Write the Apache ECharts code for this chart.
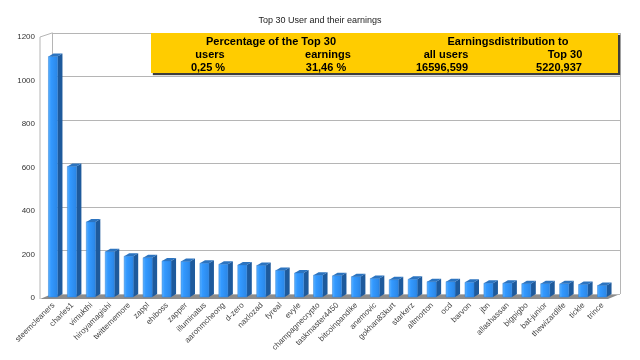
<!DOCTYPE html>
<html><head><meta charset="utf-8">
<script src="https://cdn.jsdelivr.net/npm/echarts@6/dist/echarts.min.js"></script>
<style>html,body{margin:0;padding:0;background:#fff}#c{width:640px;height:360px}</style>
</head><body><div id="c"></div>
<script>
const categories = ['steemcleaners','charles1','vimukthi','hiroyamagishi','twitternemore','zappl','ehiboss','zapper','illuminatus','aaronmcheong','d-zero','naxlozad','fyreal','evyle','champagnecrypto','taskmaster4450','bitcoinpandike','anemovic','gokhan83kurt','starkerz','altmorton','ocd','barvon','jbn','allashassan','bigpigbo','bat-junior','thewizardlife','tickle','trince'];
const earnings = [1110,605,350,213,192,185,170,168,160,155,152,150,127,115,105,102,98,90,84,86,75,75,72,68,68,66,66,65,62,58];
const yTicks = [0,200,400,600,800,1000,1200];
const chartTitle = 'Top 30 User and their earnings';
const boxHeaders = ['Percentage of the Top 30','Earningsdistribution to'];
const boxColumns = ['users','earnings','all users','Top 30'];
const boxValues = ['0,25 %','31,46 %','16596,599','5220,937'];

const FONT = '"Liberation Sans", Arial, sans-serif';
const chart = echarts.init(document.getElementById('c'), null, {renderer:'canvas'});
const yMax = yTicks[yTicks.length-1], yStep = yTicks[1]-yTicks[0];

const wallColor = '#b5b5b5';
const graphics = [
  {type:'polygon', z:0, shape:{points:[[40,299],[52,294],[620,294],[608,299]]}, style:{fill:'#8c8c8c'}},
  {type:'polyline', z:1, shape:{points:[[52,33],[40,37],[40,299]]}, style:{stroke:wallColor, lineWidth:1, fill:null}},
  {type:'line', z:1, shape:{x1:620.5,y1:33,x2:620.5,y2:294}, style:{stroke:wallColor, lineWidth:1}},
  {type:'rect', z:10, shape:{x:151,y:33,width:467,height:40}, style:{fill:'#FFCC00', shadowColor:'rgba(40,40,40,0.9)', shadowOffsetX:2, shadowOffsetY:2, shadowBlur:1}}
];
const bold = 'bold 11px ' + FONT;
const hx = [271, 508], cx = [210, 328, 446, 565], vx = [208, 326, 442, 559];
boxHeaders.forEach((t,i)=>graphics.push({type:'text', z:11, x:hx[i], y:41.5, style:{text:t, font:bold, fill:'#000', align:'center', verticalAlign:'middle'}}));
boxColumns.forEach((t,i)=>graphics.push({type:'text', z:11, x:cx[i], y:55, style:{text:t, font:bold, fill:'#000', align:'center', verticalAlign:'middle'}}));
boxValues.forEach((t,i)=>graphics.push({type:'text', z:11, x:vx[i], y:68, style:{text:t, font:bold, fill:'#000', align:'center', verticalAlign:'middle'}}));

function renderBar(params, api){
  const i = api.value(0), v = api.value(1);
  const b = api.coord([i,0]), t = api.coord([i,v]);
  const w = 9, dx = 5, dy = 3;
  const x0 = b[0]-5, yb = b[1]-1, yt = t[1];
  return {type:'group', children:[
    {type:'polygon', shape:{points:[[x0+w,yt],[x0+w+dx,yt-dy],[x0+w+dx,yb-dy],[x0+w,yb]]}, style:{fill:'#1e5a9c'}},
    {type:'rect', shape:{x:x0,y:yt,width:w,height:yb-yt}, style:{fill:new echarts.graphic.LinearGradient(0,0,1,0,[{offset:0,color:'#5db3ff'},{offset:0.3,color:'#3399ff'},{offset:1,color:'#2a86e6'}]), stroke:'#2a7fd8', lineWidth:0.5}},
    {type:'polygon', shape:{points:[[x0,yt],[x0+dx,yt-dy],[x0+w+dx,yt-dy],[x0+w,yt]]}, style:{fill:'#2c74c0'}}
  ]};
}

chart.setOption({
  animation:false,
  backgroundColor:'#fff',
  title:{text:chartTitle, left:'center', top:11, textStyle:{fontSize:9, fontWeight:'normal', color:'#222', fontFamily:FONT}},
  grid:[
    {left:44, right:28, top:37, bottom:62},
    {left:52, right:20, top:33, bottom:66}
  ],
  xAxis:[
    {type:'category', gridIndex:0, data:categories, axisLine:{show:false}, axisTick:{show:false},
     axisLabel:{interval:0, rotate:45, fontSize:8, color:'#444', margin:6, fontFamily:FONT}},
    {type:'category', gridIndex:1, data:categories, show:false}
  ],
  yAxis:[
    {type:'value', gridIndex:0, min:0, max:yMax, interval:yStep, axisLine:{show:false}, axisTick:{show:false}, splitLine:{show:false},
     axisLabel:{fontSize:8, color:'#333', margin:9, fontFamily:FONT, formatter:(v)=>String(v)}},
    {type:'value', gridIndex:1, min:0, max:yMax, interval:yStep, axisLabel:{show:false}, axisTick:{show:false},
     axisLine:{show:true, lineStyle:{color:wallColor, width:1}}, splitLine:{show:true, lineStyle:{color:wallColor, width:1}}}
  ],
  graphic: graphics,
  series:[
    {type:'custom', xAxisIndex:0, yAxisIndex:0, z:5, renderItem:renderBar, encode:{x:0,y:1},
     data: earnings.map((v,i)=>[i,v])}
  ]
});
</script></body></html>
